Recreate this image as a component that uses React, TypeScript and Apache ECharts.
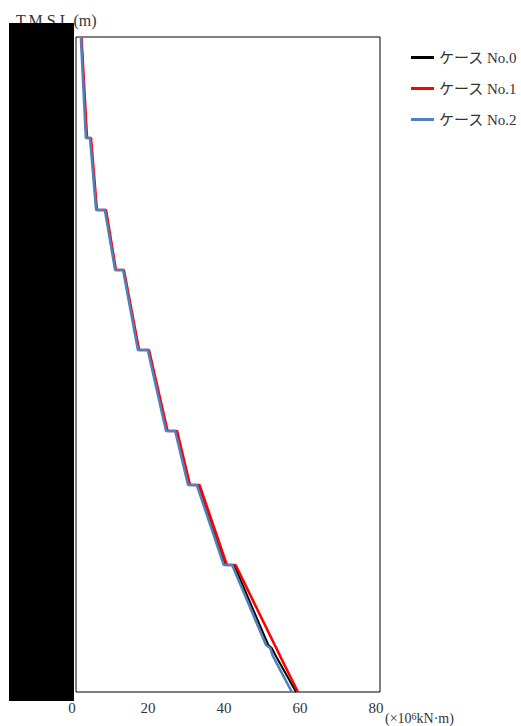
import React, { useEffect, useRef } from "react";
import * as echarts from "echarts";

// Elevation levels (T.M.S.L., m) of the profile points, top to bottom
const levels = [51.4, 41.4, 41.4, 34.2, 34.2, 28.2, 28.2, 20.2, 20.2, 12.1, 12.1, 6.7, 6.7, -1.3, -1.3, -9.3, -9.6, -10.4, -14.0];

// Moment values (×10^6 kN·m) for each case at the levels above
const case0 = [1.4, 2.75, 3.8, 5.4, 7.75, 10.4, 12.5, 16.45, 19.05, 23.9, 26.4, 29.8, 32.2, 39.3, 41.6, 50.6, 51.5, 52.6, 57.9];
const case1 = [1.45, 2.9, 3.95, 5.5, 7.9, 10.5, 12.6, 16.6, 19.2, 24.1, 26.6, 30.0, 32.5, 39.7, 42.0, 52.3, 52.7, 53.7, 58.4];
const case2 = [1.3, 2.6, 3.7, 5.3, 7.6, 10.3, 12.4, 16.3, 18.9, 23.7, 26.1, 29.5, 31.8, 38.9, 41.1, 50.0, 51.1, 51.8, 56.8];

const seriesNames = ["ケース No.0", "ケース No.1", "ケース No.2"];
const seriesColors = ["#000000", "#ff0000", "#4f81bd"];
const xTicks = [0, 20, 40, 60, 80];

const FONT = "'Liberation Serif', 'Noto Sans CJK JP', serif";

export default function App() {
  const ref = useRef<HTMLDivElement>(null);
  useEffect(() => {
    if (!ref.current) return;
    const chart = echarts.init(ref.current, undefined, { renderer: "svg" });
    const all = [case0, case1, case2];
    chart.setOption({
      animation: false,
      textStyle: { fontFamily: FONT },
      grid: {
        left: 76,
        top: 37,
        width: 304,
        height: 655,
        show: true,
        borderColor: "#000",
        borderWidth: 1,
        backgroundColor: "#fff",
      },
      xAxis: {
        type: "value",
        min: xTicks[0],
        max: xTicks[xTicks.length - 1],
        interval: 20,
        axisLine: { show: false, onZero: false },
        axisTick: { show: false },
        splitLine: { show: false },
        axisLabel: {
          color: "#333",
          fontSize: 15,
          lineHeight: 15,
          fontFamily: FONT,
          margin: 8,
          padding: [0, 8, 0, 0],
        },
      },
      yAxis: {
        type: "value",
        min: -14,
        max: 51.5,
        axisLine: { show: false, onZero: false },
        axisTick: { show: false },
        splitLine: { show: false },
        axisLabel: { show: false },
      },
      legend: {
        orient: "vertical",
        left: 406,
        top: 45,
        icon: "rect",
        itemWidth: 23,
        itemHeight: 3,
        itemGap: 16,
        data: seriesNames,
        textStyle: { color: "#333", fontSize: 15, fontFamily: FONT },
      },
      series: all.map((vals, i) => ({
        name: seriesNames[i],
        type: "line",
        data: vals.map((v, k) => [v, levels[k]]),
        symbol: "none",
        lineStyle: { color: seriesColors[i], width: i === 0 ? 2 : 2.6 },
        itemStyle: { color: seriesColors[i] },
        z: 2 + i,
      })),
      graphic: [
        {
          type: "text",
          left: 16,
          top: 12,
          z: 10,
          style: {
            text: "T.M.S.L.(m)",
            fill: "#333",
            font: `16px ${FONT}`,
          },
        },
        {
          type: "rect",
          left: 9,
          top: 23,
          z: 20,
          shape: { width: 65, height: 678 },
          style: { fill: "#000" },
        },
        {
          type: "text",
          left: 385,
          top: 711,
          z: 10,
          style: {
            text: "(×10{sup|6}kN·m)",
            fill: "#333",
            font: `14px ${FONT}`,
            lineHeight: 14,
            rich: {
              sup: { fontSize: 10, lineHeight: 14, verticalAlign: "top", padding: [0, 0, 4, 0], fill: "#333", fontFamily: FONT },
            },
          },
        },
      ],
    });
    return () => chart.dispose();
  }, []);
  return <div ref={ref} style={{ width: 521, height: 726, position: "absolute", left: 0, top: 0 }} />;
}
